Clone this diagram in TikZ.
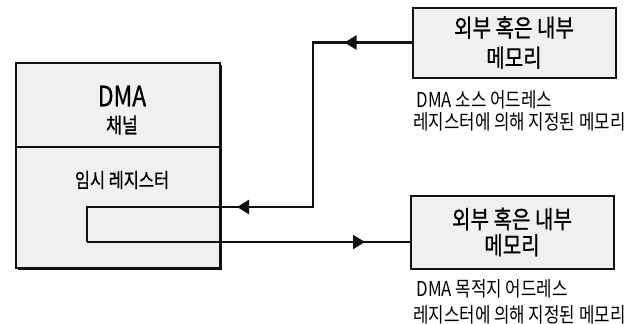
\documentclass[tikz,border=0pt]{standalone}
\usepackage{fontspec}
\newfontfamily\kr[FakeStretch=0.82]{Noto Sans CJK KR}
\newfontfamily\krb[FakeStretch=0.82, FakeBold=0.8]{Noto Sans CJK KR}
\usetikzlibrary{arrows.meta, decorations.markings, shadows}
\definecolor{paper}{HTML}{F0F0F0}
\definecolor{ink}{HTML}{111111}

\begin{document}
\begin{tikzpicture}[
        x=1pt, y=-1pt,
        box/.style={draw=ink, line width=2pt, fill=paper, align=center, font=\krb\fontsize{24.5}{30}\selectfont,
            drop shadow={shadow xshift=1.5pt, shadow yshift=-1.5pt, opacity=1, fill=ink}},
        bus/.style={draw=ink, line width=2.4pt},
        arrowat/.style={postaction={decorate, decoration={markings,
            mark=at position #1pt with {\arrow{Triangle[length=12pt, width=14pt]}}}}},
        caption/.style={anchor=west, align=left, inner sep=0pt, font=\kr\fontsize{20.5}{#1}\selectfont}
    ]
        \useasboundingbox (0,0) rectangle (635,324);

        % DMA channel
        \node[box, minimum width=204pt, minimum height=205pt] (dma) at (118,165.5) {};
        \draw[draw=ink, line width=2pt] (dma.west |- 0,147) -- (dma.east |- 0,147);
        \node[font=\krb\fontsize{28}{30}\selectfont] (dmaname) at (122,96) {DMA};
        \node[font=\krb\fontsize{21}{24}\selectfont] (channel) at (122,125) {채널};
        \node[font=\krb\fontsize{20}{24}\selectfont] (tmpreg) at (122,180) {임시 레지스터};

        % Memories
        \node[box, minimum width=203pt, minimum height=70pt] (memsrc) at (514,42.5) {외부 혹은 내부\\메모리};
        \node[box, minimum width=203pt, minimum height=73pt, font=\krb\fontsize{24.5}{26}\selectfont] (memdst) at (512,232) {외부 혹은 내부\\메모리};

        \node[caption=22] (srccap) at (413,111) {\,DMA 소스 어드레스\\레지스터에 의해 지정된 메모리};
        \node[caption=26] (dstcap) at (413,302) {\,DMA 목적지 어드레스\\레지스터에 의해 지정된 메모리};

        % Register and transfers
        \coordinate (jog) at (313,207);
        \coordinate (regnw) at (87,207);
        \coordinate (regsw) at (87,242);
        \draw[bus, arrowat=67, arrowat=339] (memsrc.west) -| (jog) -- (regnw) -- (regsw);
        \draw[bus, arrowat=278] (regsw) -- (regsw -| memdst.west);

    \end{tikzpicture}
\end{document}
